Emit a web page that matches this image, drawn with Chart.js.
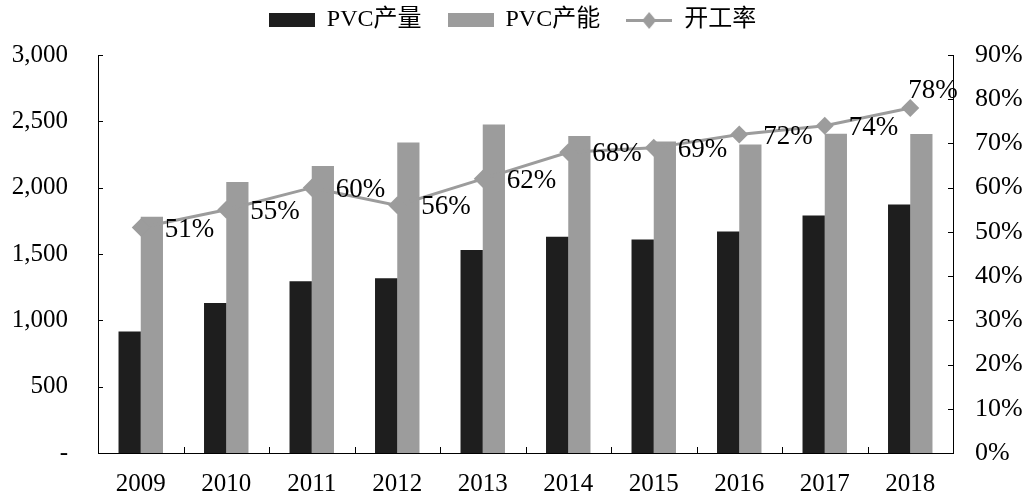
<!DOCTYPE html>
<html>
<head>
<meta charset="utf-8">
<script src="https://cdn.jsdelivr.net/npm/chart.js@4.4.0/dist/chart.umd.min.js"></script>
<style>
  html, body { margin: 0; padding: 0; background: #fff; }
  #wrap { width: 1025px; height: 495px; }
</style>
</head>
<body>
<div id="wrap"><canvas id="pvcChart" width="1025" height="495"></canvas></div>
<script>
const years = ["2009", "2010", "2011", "2012", "2013", "2014", "2015", "2016", "2017", "2018"];
const output = [915, 1130, 1295, 1318, 1530, 1630, 1609, 1669, 1790, 1874];
const capacity = [1781, 2043, 2163, 2341, 2476, 2389, 2348, 2326, 2406, 2404];
const rate = [51, 55, 60, 56, 62, 68, 69, 72, 74, 78];
const seriesNames = ["PVC产量", "PVC产能", "开工率"];

const DARK = "#1e1e1e";
const GREY = "#9c9c9c";
const FONT = "'Liberation Serif', 'Noto Sans CJK SC', serif";

Chart.defaults.font.family = FONT;
Chart.defaults.color = "#000";

// legend swatches: wide box for bars, line + diamond for the rate
function swatch(kind) {
  const c = document.createElement("canvas");
  c.width = 46; c.height = 18;
  const g = c.getContext("2d");
  if (kind === "line") {
    g.fillStyle = GREY;
    g.fillRect(0, 8, 46, 3);
    g.beginPath();
    g.moveTo(23, 1); g.lineTo(30, 9.5); g.lineTo(23, 18); g.lineTo(16, 9.5);
    g.closePath(); g.fill();
  } else {
    g.fillStyle = kind;
    g.fillRect(0, 2, 46, 14);
  }
  return c;
}
const legendIcons = [swatch(DARK), swatch(GREY), swatch("line")];

// tweak the legend box height so the plot starts where the original does
const legendGap = {
  id: "legendGap",
  beforeInit(chart) {
    const fit = chart.legend.fit;
    chart.legend.fit = function () {
      fit.bind(chart.legend)();
      this.height += 13;
    };
  }
};

// small tick marks pointing into the plot
const innerTicks = {
  id: "innerTicks",
  afterDraw(chart) {
    const { ctx, chartArea: a, scales } = chart;
    ctx.save();
    ctx.strokeStyle = "#000";
    ctx.lineWidth = 1;
    ctx.beginPath();
    scales.y.ticks.forEach((t, i) => {
      const py = Math.round(scales.y.getPixelForTick(i)) + 0.5;
      ctx.moveTo(a.left, py); ctx.lineTo(a.left + 5, py);
    });
    scales.y1.ticks.forEach((t, i) => {
      const py = Math.round(scales.y1.getPixelForTick(i)) + 0.5;
      ctx.moveTo(a.right - 5, py); ctx.lineTo(a.right, py);
    });
    for (let i = 1; i < years.length; i++) {
      const px = Math.round((scales.x.getPixelForValue(i - 1) + scales.x.getPixelForValue(i)) / 2) + 0.5;
      ctx.moveTo(px, a.bottom); ctx.lineTo(px, a.bottom - 6);
    }
    ctx.stroke();
    ctx.restore();
  }
};

// percentage labels next to the rate points
const rateLabels = {
  id: "rateLabels",
  afterDatasetsDraw(chart) {
    const { ctx } = chart;
    const meta = chart.getDatasetMeta(2);
    ctx.save();
    ctx.font = "27px " + FONT;
    ctx.fillStyle = "#000";
    ctx.textAlign = "left";
    ctx.textBaseline = "middle";
    meta.data.forEach((pt, i) => {
      const last = i === meta.data.length - 1;
      const x = last ? pt.x - 2 : pt.x + 24;
      const y = last ? pt.y - 17 : pt.y + 2;
      ctx.fillText(rate[i] + "%", x, y);
    });
    ctx.restore();
  }
};

// fixed axis sizes; drop the label overhang padding so the plot fills the frame
function fixVertical(width) {
  return s => {
    s.width = width;
    s.paddingTop = 0;
    s.paddingBottom = 0;
  };
}

new Chart(document.getElementById("pvcChart"), {
  type: "bar",
  data: {
    labels: years,
    datasets: [
      {
        label: seriesNames[0],
        data: output,
        backgroundColor: DARK,
        yAxisID: "y",
        order: 2,
        categoryPercentage: 0.52,
        barPercentage: 1.0
      },
      {
        label: seriesNames[1],
        data: capacity,
        backgroundColor: GREY,
        yAxisID: "y",
        order: 2,
        categoryPercentage: 0.52,
        barPercentage: 1.0
      },
      {
        type: "line",
        label: seriesNames[2],
        data: rate,
        yAxisID: "y1",
        order: 1,
        borderColor: GREY,
        borderWidth: 3,
        pointStyle: "rectRot",
        pointRadius: 9,
        pointBackgroundColor: GREY,
        pointBorderWidth: 0,
        tension: 0
      }
    ]
  },
  options: {
    responsive: false,
    animation: false,
    layout: { padding: { top: -18, left: 0, right: 0, bottom: 0 } },
    plugins: {
      tooltip: { enabled: false },
      legend: {
        position: "top",
        align: "center",
        labels: {
          usePointStyle: true,
          pointStyleWidth: 46,
          boxHeight: 18,
          padding: 26,
          font: { size: 24 },
          color: "#000",
          generateLabels: chart => chart.data.datasets.map((ds, i) => ({
            text: ds.label,
            pointStyle: legendIcons[i],
            fillStyle: "transparent",
            strokeStyle: "transparent",
            lineWidth: 0,
            hidden: false,
            datasetIndex: i,
            fontColor: "#000"
          }))
        }
      }
    },
    scales: {
      x: {
        grid: { display: false, drawTicks: false },
        border: { display: true, color: "#000", width: 1 },
        ticks: { padding: 16, font: { size: 25 }, color: "#000", maxRotation: 0 },
        afterFit: s => { s.height = 42; }
      },
      y: {
        position: "left",
        min: 0,
        max: 3000,
        grid: { display: false, drawTicks: false },
        border: { display: true, color: "#000", width: 1 },
        ticks: {
          stepSize: 500,
          padding: 30,
          font: { size: 25 },
          color: "#000",
          callback: v => v === 0 ? "-" : v.toLocaleString("en-US")
        },
        afterFit: fixVertical(98)
      },
      y1: {
        position: "right",
        min: 0,
        max: 90,
        grid: { display: false, drawTicks: false },
        border: { display: true, color: "#000", width: 1 },
        ticks: {
          stepSize: 10,
          padding: 22,
          font: { size: 26 },
          color: "#000",
          callback: v => v + "%"
        },
        afterFit: fixVertical(72)
      }
    }
  },
  plugins: [legendGap, innerTicks, rateLabels]
});
</script>
</body>
</html>
